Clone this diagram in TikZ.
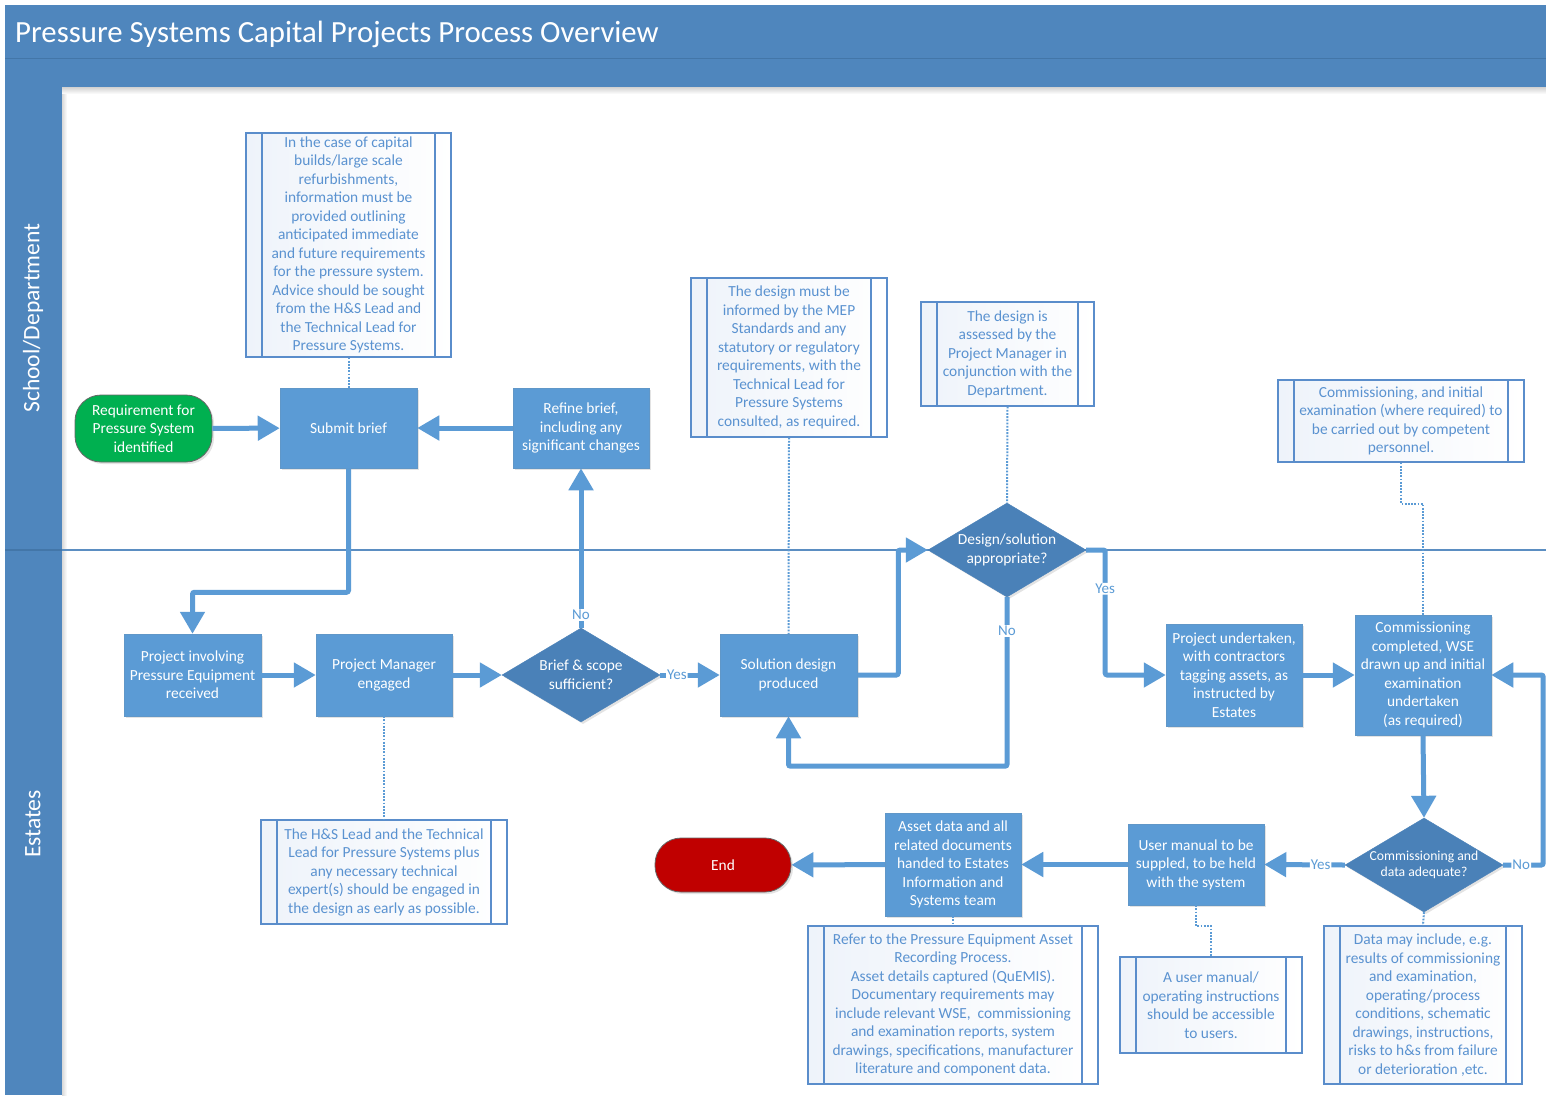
\documentclass[tikz,border=0pt]{standalone}
\usepackage{fontspec}
\setmainfont{Carlito}
\usetikzlibrary{arrows.meta,shapes.geometric,shadows,calc}
\definecolor{band}{HTML}{4F86BD}
\definecolor{bandline}{HTML}{4376A8}
\definecolor{proc}{HTML}{5B9BD5}
\definecolor{dec}{HTML}{4A81B8}
\definecolor{flowc}{HTML}{5B9BD5}
\definecolor{annline}{HTML}{5A8DCB}
\definecolor{anntext}{HTML}{5A92D0}
\definecolor{annfill}{HTML}{EEF3FA}
\definecolor{lane}{HTML}{5B8EC2}
\definecolor{startc}{HTML}{00B050}
\definecolor{endc}{HTML}{C00000}

\begin{document}
\begin{tikzpicture}[x=1pt,y=-1pt,
  txt/.style={font=\fontsize{15.4}{18.6}\selectfont, text=white, align=center},
  shad/.style={drop shadow={opacity=0.22,shadow xshift=2pt,shadow yshift=-2pt}},
  proc/.style={txt, rectangle, fill=proc, draw=proc!85!gray, line width=0.5pt, inner sep=0pt, shad},
  term/.style={txt, rectangle, rounded corners=26pt, draw=black!60, line width=0.8pt, inner sep=0pt, shad},
  dec/.style={diamond, fill=dec, draw=dec, inner sep=0pt, aspect=1.68, minimum width=158, minimum height=94, shad},
  ann/.style={rectangle, draw=annline, line width=1.2pt, inner sep=0pt, align=center, text=anntext,
    font=\fontsize{15.4}{18.5}\selectfont, left color=annfill, right color=white,
    path picture={\draw[annline, line width=1.2pt]
      ([xshift=16pt]path picture bounding box.north west) -- ([xshift=16pt]path picture bounding box.south west)
      ([xshift=-16pt]path picture bounding box.north east) -- ([xshift=-16pt]path picture bounding box.south east);}},
  flow/.style={draw=flowc, line width=5pt, rounded corners=2pt, -{Triangle[length=22pt,width=24pt]}},
  note/.style={draw=flowc, line width=2pt, dash pattern=on 1.8pt off 1.4pt},
  lbl/.style={font=\fontsize{15}{16}\selectfont, text=proc, fill=white, inner sep=1pt},
  lanelbl/.style={font=\fontsize{23.6}{25}\selectfont, text=white, rotate=90}
]
\useasboundingbox (0,0) rectangle (1546,1095);
\fill[white] (0,0) rectangle (1546,1095);

% title band and lane header column
\fill[band] (5,5) rectangle (1546,87);
\draw[bandline, line width=1pt] (5,58) -- (1546,58);
\fill[band] (5,87) rectangle (62,1095);
\shade[top color=black!18, bottom color=white] (62,87) rectangle (1546,94);
\shade[left color=black!15, right color=white] (62,94) rectangle (67,1095);
\draw[bandline, line width=1.5pt] (5,550) -- (62,550);
\draw[lane, line width=1.6pt] (62,550) -- (1546,550);

\node[anchor=base west, inner sep=0pt, font=\fontsize{30.8}{33}\selectfont, text=white] (title) at (15,42)
  {Pressure Systems Capital Projects Process Overview};
\node[lanelbl] (laneA) at (33,318) {School/Department};
\node[lanelbl] (laneB) at (33,824) {Estates};

% process steps
\node[term, fill=startc, minimum width=137, minimum height=67] (start) at (143.5,428.5)
  {Requirement for\\Pressure System\\identified};
\node[proc, minimum width=137, minimum height=80] (submit) at (348.5,428) {Submit brief};
\node[proc, minimum width=136, minimum height=80] (refine) at (581,428)
  {Refine brief,\\including any\\significant changes};
\node[proc, minimum width=137, minimum height=82] (projinv) at (192.5,675)
  {Project involving\\Pressure Equipment\\received};
\node[proc, minimum width=136, minimum height=82] (pm) at (384,675) {Project Manager\\engaged};
\node[dec] (d1) at (581,675) {};
\node[txt] (d1t) at (d1) {Brief \& scope\\sufficient?};
\node[proc, minimum width=137, minimum height=82] (sol) at (788.5,675) {Solution design\\produced};
\node[dec] (d2) at (1007,550) {};
\node[txt] (d2t) at (d2) {Design/solution\\appropriate?};
\node[proc, minimum width=136, minimum height=102] (projund) at (1234,675)
  {Project undertaken,\\with contractors\\tagging assets, as\\instructed by\\Estates};
\node[proc, minimum width=136, minimum height=120] (comm) at (1423,675)
  {Commissioning\\completed, WSE\\drawn up and initial\\examination\\undertaken\\(as required)};
\node[dec] (d3) at (1424,865) {};
\node[txt, font=\fontsize{13.7}{16}\selectfont] (d3t) at (d3) {Commissioning and\\data adequate?};
\node[proc, minimum width=136, minimum height=81] (user) at (1196,864.5)
  {User manual to be\\suppled, to be held\\with the system};
\node[proc, minimum width=136, minimum height=103] (asset) at (953,864.5)
  {Asset data and all\\related documents\\handed to Estates\\Information and\\Systems team};
\node[term, fill=endc, minimum width=136, minimum height=54] (end) at (723,865) {End};

% annotations
\node[ann, minimum width=205, minimum height=224] (ann1) at (348.5,245)
  {In the case of capital\\builds/large scale\\refurbishments,\\information must be\\provided outlining\\anticipated immediate\\and future requirements\\for the pressure system.\\Advice should be sought\\from the H\&S Lead and\\the Technical Lead for\\Pressure Systems.};
\node[ann, minimum width=196, minimum height=159] (ann2) at (789,357.5)
  {The design must be\\informed by the MEP\\Standards and any\\statutory or regulatory\\requirements, with the\\Technical Lead for\\Pressure Systems\\consulted, as required.};
\node[ann, minimum width=173, minimum height=104] (ann3) at (1007.5,354)
  {The design is\\assessed by the\\Project Manager in\\conjunction with the\\Department.};
\node[ann, minimum width=246, minimum height=82] (ann4) at (1401,421)
  {Commissioning, and initial\\examination (where required) to\\be carried out by competent\\personnel.};
\node[ann, minimum width=246, minimum height=104] (ann5) at (384,872)
  {The H\&S Lead and the Technical\\Lead for Pressure Systems plus\\any necessary technical\\expert(s) should be engaged in\\the design as early as possible.};
\node[ann, minimum width=290, minimum height=158] (ann6) at (953,1005)
  {Refer to the Pressure Equipment Asset\\Recording Process.\\Asset details captured (QuEMIS).\\Documentary requirements may\\include relevant WSE,\ \ commissioning\\and examination reports, system\\drawings, specifications, manufacturer\\literature and component data.};
\node[ann, minimum width=182, minimum height=96] (ann7) at (1211,1005)
  {A user manual/\\operating instructions\\should be accessible\\to users.};
\node[ann, minimum width=198, minimum height=158] (ann8) at (1423,1005)
  {Data may include, e.g.\\results of commissioning\\and examination,\\operating/process\\conditions, schematic\\drawings, instructions,\\risks to h\&s from failure\\or deterioration ,etc.};

% dotted links to annotations
\draw[note] (ann1.south) -- (submit.north);
\draw[note] (ann2.south) -- (sol.north);
\draw[note] (ann3.south) -- (d2.north);
\draw[note] (ann4.south) -- ++(0,41) -| (comm.north);
\draw[note] (pm.south) -- (ann5.north);
\draw[note] (asset.south) -- (ann6.north);
\draw[note] (user.south) -- ++(0,21) -| (ann7.north);
\draw[note] (d3.south) -- (ann8.north);

% process flow
\draw[flow] (start) -- (submit);
\draw[flow] (refine) -- (submit);
\draw[flow] (submit.south) -- ++(0,124) -| (projinv.north);
\draw[flow] (projinv) -- (pm);
\draw[flow] (pm) -- (d1);
\draw[flow] (d1.east) -- node[lbl, pos=0.28] {Yes} (sol.west);
\draw[flow] (d1.north) -- node[lbl, pos=0.08] {No} (refine.south);
\draw[flow] (sol.east) -- ++(41,0) |- (d2.west);
\draw[flow] (d2.south) -- node[lbl, pos=0.2] {No} ++(0,169) -| (sol.south);
\draw[flow] (d2.east) -- ++(19,0) -- node[lbl, pos=0.31] {Yes} ++(0,125) -- (projund.west);
\draw[flow] (projund) -- (comm);
\draw[flow] (comm.south) -- (d3.north);
\draw[flow] (d3.east) -- node[lbl, pos=0.45] {No} ++(40,0) |- (comm.east);
\draw[flow] (d3.west) -- node[lbl, pos=0.3] {Yes} (user.east);
\draw[flow] (user) -- (asset);
\draw[flow] (asset) -- (end);
\end{tikzpicture}
\end{document}
